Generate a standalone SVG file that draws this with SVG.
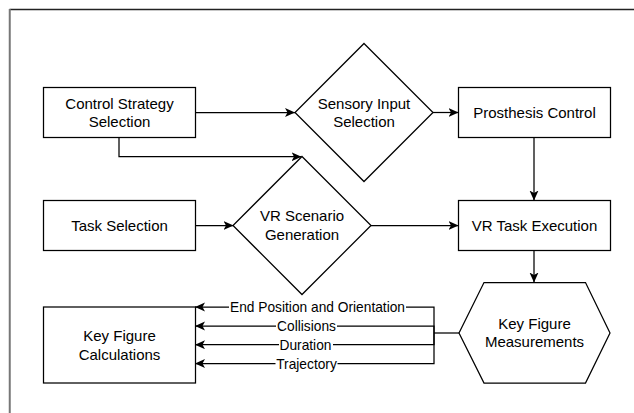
<svg xmlns="http://www.w3.org/2000/svg" width="634" height="413" viewBox="0 0 634 413">
  <style>
    .box { fill: #ffffff; stroke: #000000; stroke-width: 1.25; }
    .t { font-family: "Liberation Sans", Arial, Helvetica, sans-serif; font-size: 15px; fill: #000000; text-anchor: middle; }
    .lbl { font-family: "Liberation Sans", Arial, Helvetica, sans-serif; font-size: 13.75px; fill: #000000; text-anchor: middle; }
    .edge { fill: none; stroke: #000000; stroke-width: 1.25; }
    .arr { marker-end: url(#ah); }
    .bg { fill: #ffffff; }
  </style>
  <defs>
    <marker id="ah" markerUnits="userSpaceOnUse" markerWidth="12" markerHeight="10" refX="10" refY="4.5" orient="auto">
      <path d="M0,0 L10,4.5 L0,9 L2.5,4.5 Z" fill="#000000"/>
    </marker>
  </defs>
  <rect x="0" y="0" width="634" height="413" fill="#ffffff"/>
  <g id="frame">
    <line x1="9.5" y1="9.5" x2="634" y2="9.5" stroke="#222222" stroke-width="1.5"/>
    <line x1="9.75" y1="9" x2="9.75" y2="413" stroke="#777777" stroke-width="2"/>
  </g>
  <g id="connectors">
    <path class="edge arr" d="M195,112.5 L295,112.5"/>
    <path class="edge arr" d="M119,137.7 L119,156.7 L301.5,156.7"/>
    <path class="edge arr" d="M433,112.5 L458.5,112.5"/>
    <path class="edge arr" d="M534,137.5 L534,200.5"/>
    <path class="edge arr" d="M195,225.5 L233.5,225.5"/>
    <path class="edge arr" d="M371,225.5 L458.5,225.5"/>
    <path class="edge arr" d="M534,250.5 L534,282.5"/>
    <path class="edge" d="M459,333 L434,333"/>
    <path class="edge arr" d="M434,333 L434,307 L195,307"/>
    <path class="edge arr" d="M434,333 L434,326 L195,326"/>
    <path class="edge arr" d="M434,333 L434,344.7 L195,344.7"/>
    <path class="edge arr" d="M434,333 L434,363.5 L195,363.5"/>
    <rect class="bg" x="229" y="300" width="177" height="14"/>
    <text class="lbl" x="317.5" y="312">End Position and Orientation</text>
    <rect class="bg" x="276" y="319" width="61" height="14"/>
    <text class="lbl" x="306.5" y="331">Collisions</text>
    <rect class="bg" x="279" y="338" width="54" height="14"/>
    <text class="lbl" x="305.5" y="350">Duration</text>
    <rect class="bg" x="275.5" y="356.5" width="62" height="14"/>
    <text class="lbl" x="306.5" y="368.5">Trajectory</text>
  </g>
  <g id="control-strategy">
    <rect class="box" x="43.5" y="87.5" width="152" height="50"/>
    <text class="t" x="119.5" y="108.6">Control Strategy</text>
    <text class="t" x="119.5" y="127.4">Selection</text>
  </g>
  <g id="sensory-input">
    <polygon class="box" points="364,43.5 433,112.5 364,181.5 295,112.5"/>
    <text class="t" x="364" y="108.6">Sensory Input</text>
    <text class="t" x="364" y="127.4">Selection</text>
  </g>
  <g id="prosthesis-control">
    <rect class="box" x="458.5" y="87.5" width="152" height="50"/>
    <text class="t" x="534.5" y="117.5">Prosthesis Control</text>
  </g>
  <g id="task-selection">
    <rect class="box" x="43.5" y="200.5" width="152" height="50"/>
    <text class="t" x="119.5" y="230.5">Task Selection</text>
  </g>
  <g id="vr-scenario">
    <polygon class="box" points="302,156.5 371,225.5 302,294.5 233,225.5"/>
    <text class="t" x="302" y="221.2">VR Scenario</text>
    <text class="t" x="302" y="240">Generation</text>
  </g>
  <g id="vr-task">
    <rect class="box" x="458.5" y="200.5" width="152" height="50"/>
    <text class="t" x="534.5" y="230.5">VR Task Execution</text>
  </g>
  <g id="key-figure-measurements">
    <polygon class="box" points="459,333 484,282.5 585.5,282.5 610,333 585.5,383 484,383"/>
    <text class="t" x="534.5" y="328.5">Key Figure</text>
    <text class="t" x="534.5" y="347.3">Measurements</text>
  </g>
  <g id="key-figure-calculations">
    <rect class="box" x="43.5" y="307" width="152" height="76"/>
    <text class="t" x="119.5" y="341">Key Figure</text>
    <text class="t" x="119.5" y="359.8">Calculations</text>
  </g>
</svg>
